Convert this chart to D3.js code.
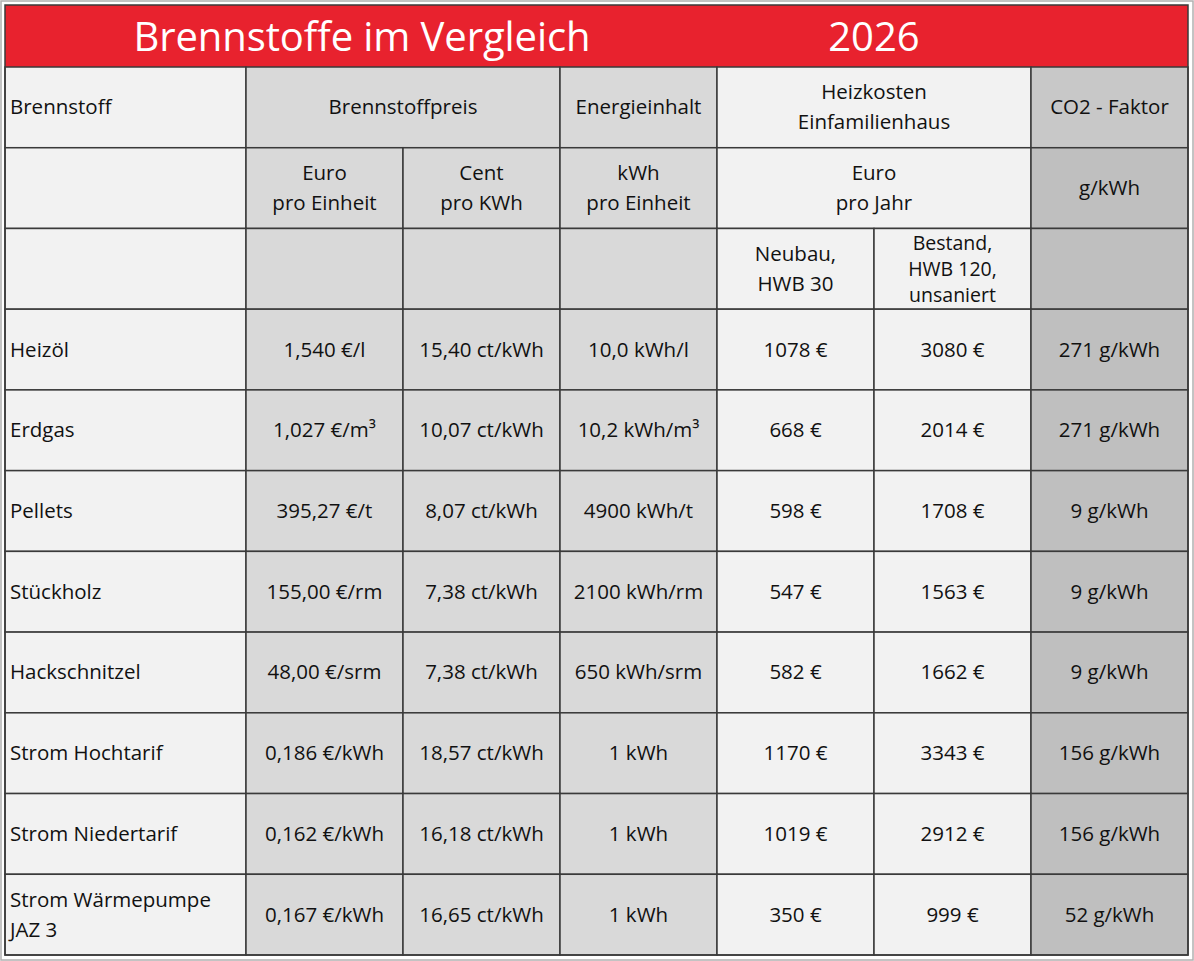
<!DOCTYPE html>
<html><head><meta charset="utf-8">
<script src="https://cdn.jsdelivr.net/npm/d3@7"></script>
<style>body{margin:0;background:#fff}text{font-family:"Open Sans",sans-serif}</style>
</head><body><svg id="c" width="1194" height="961"></svg>
<script>
const title = "Brennstoffe im Vergleich";
const year = "2026";
const fuels = ["Heizöl","Erdgas","Pellets","Stückholz","Hackschnitzel","Strom Hochtarif","Strom Niedertarif","Strom Wärmepumpe\nJAZ 3"];
const pricePerUnit = ["1,540 €/l","1,027 €/m³","395,27 €/t","155,00 €/rm","48,00 €/srm","0,186 €/kWh","0,162 €/kWh","0,167 €/kWh"];
const centPerKwh = ["15,40 ct/kWh","10,07 ct/kWh","8,07 ct/kWh","7,38 ct/kWh","7,38 ct/kWh","18,57 ct/kWh","16,18 ct/kWh","16,65 ct/kWh"];
const energy = ["10,0 kWh/l","10,2 kWh/m³","4900 kWh/t","2100 kWh/rm","650 kWh/srm","1 kWh","1 kWh","1 kWh"];
const costNew = [1078,668,598,547,582,1170,1019,350];
const costOld = [3080,2014,1708,1563,1662,3343,2912,999];
const co2 = [271,271,9,9,9,156,156,52];

const svg = d3.select("#c");
const x = d3.scaleLinear().domain([0,1,2,3,4,5,6,7]).range([5,246,403,560,717,874,1031,1188]);
const y = d3.scaleLinear().domain([0,11]).range([67,955]);
const L="#f2f2f2", G="#d9d9d9", D="#bfbfbf";
const colFill = [L,G,G,G,L,L,D];
const FS=20.5;

svg.append("rect").attr("x",1).attr("y",1).attr("width",1192).attr("height",959).attr("fill","none").attr("stroke","#b0b0b0").attr("stroke-width",1.5);
svg.append("rect").attr("x",5).attr("y",5).attr("width",1183).attr("height",62).attr("fill","#e8222e");
svg.append("text").attr("x",362).attr("y",51).attr("text-anchor","middle").attr("fill","#fff").attr("font-size",40).attr("textLength",457).text(title);
svg.append("text").attr("x",874).attr("y",51).attr("text-anchor","middle").attr("fill","#fff").attr("font-size",40).text(year);

const cells=[];
function cell(c0,c1,r,txt,fill,align){cells.push({c0,c1,r,txt,fill:fill||colFill[c0],align:align||"middle"});}
cell(0,1,0,"Brennstoff",L,"start");
cell(1,3,0,"Brennstoffpreis",G);
cell(3,4,0,"Energieinhalt",G);
cell(4,6,0,"Heizkosten\nEinfamilienhaus",L);
cell(6,7,0,"CO2 - Faktor","#c8c8c8");
cell(0,1,1,"",L);cell(1,2,1,"Euro\npro Einheit");cell(2,3,1,"Cent\npro KWh");cell(3,4,1,"kWh\npro Einheit");
cell(4,6,1,"Euro\npro Jahr",L);cell(6,7,1,"g/kWh");
cell(0,1,2,"");cell(1,2,2,"");cell(2,3,2,"");cell(3,4,2,"");cell(4,5,2,"Neubau,\nHWB 30");cell(5,6,2,"Bestand,\nHWB 120,\nunsaniert");cell(6,7,2,"");
fuels.forEach((f,i)=>{const r=i+3;
 cell(0,1,r,f,L,"start");cell(1,2,r,pricePerUnit[i]);cell(2,3,r,centPerKwh[i]);cell(3,4,r,energy[i]);
 cell(4,5,r,costNew[i]+" €");cell(5,6,r,costOld[i]+" €");cell(6,7,r,co2[i]+" g/kWh");});

const g=svg.selectAll("g.cell").data(cells).join("g");
g.append("rect").attr("x",d=>x(d.c0)).attr("y",d=>y(d.r)).attr("width",d=>x(d.c1)-x(d.c0)).attr("height",d=>y(d.r+1)-y(d.r))
 .attr("fill",d=>d.fill).attr("stroke","#3a3a3a").attr("stroke-width",1.5);
g.each(function(d){
 const lines=d.txt.split("\n"); if(!d.txt)return;
 const lh=lines.length===3?26:30, cy=(y(d.r)+y(d.r+1))/2;
 const fs=lines.length===3?19.5:FS;
 const xx=d.align==="start"?x(d.c0)+5:(x(d.c0)+x(d.c1))/2;
 const t=d3.select(this).append("text").attr("font-size",fs).attr("fill","#111").attr("text-anchor",d.align);
 lines.forEach((l,k)=>t.append("tspan").attr("x",xx).attr("y",cy+(k-(lines.length-1)/2)*lh+7).text(l));
});
svg.append("rect").attr("x",5).attr("y",5).attr("width",1183).attr("height",950).attr("fill","none").attr("stroke","#3a3a3a").attr("stroke-width",1.5);
</script></body></html>
